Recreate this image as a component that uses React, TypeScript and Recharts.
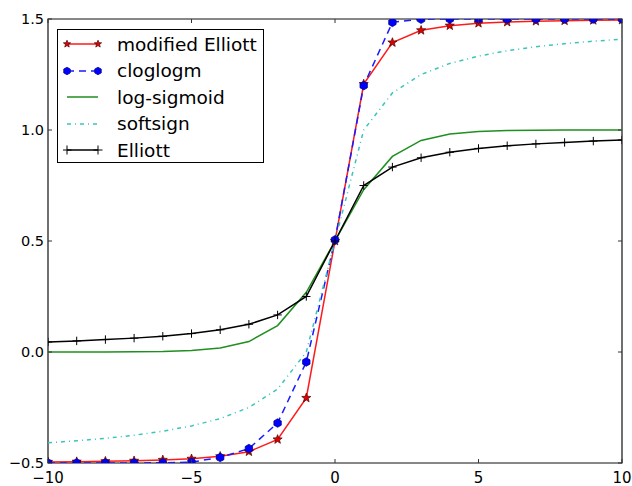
import { LineChart, Line, XAxis, YAxis, ReferenceArea, Legend } from "recharts";

const X_VALUES = [-10, -9, -8, -7, -6, -5, -4, -3, -2, -1, 0, 1, 2, 3, 4, 5, 6, 7, 8, 9, 10];

const MODIFIED_ELLIOTT = [
  -0.495, -0.494, -0.492, -0.49, -0.486, -0.481, -0.47, -0.449, -0.394, -0.207,
  0.5, 1.207, 1.394, 1.449, 1.47, 1.481, 1.486, 1.49, 1.492, 1.494, 1.495,
];
const CLOGLOGM = [
  -0.5, -0.5, -0.5, -0.5, -0.499, -0.496, -0.475, -0.435, -0.32, -0.045,
  0.505, 1.2, 1.485, 1.499, 1.5, 1.5, 1.5, 1.5, 1.5, 1.5, 1.5,
];
const LOG_SIGMOID = [
  0.0, 0.0001, 0.0003, 0.001, 0.0025, 0.007, 0.018, 0.047, 0.119, 0.269,
  0.5, 0.731, 0.881, 0.953, 0.982, 0.993, 0.9975, 0.999, 0.9997, 0.9999, 1.0,
];
const SOFTSIGN = [
  -0.409, -0.4, -0.389, -0.375, -0.357, -0.333, -0.3, -0.25, -0.167, 0.0,
  0.5, 1.0, 1.167, 1.25, 1.3, 1.333, 1.357, 1.375, 1.389, 1.4, 1.409,
];
const ELLIOTT = [
  0.045, 0.05, 0.056, 0.0625, 0.071, 0.083, 0.1, 0.125, 0.167, 0.25,
  0.5, 0.75, 0.833, 0.875, 0.9, 0.917, 0.929, 0.9375, 0.944, 0.95, 0.955,
];

const X_TICKS = [-10, -5, 0, 5, 10];
const Y_TICKS = [-0.5, 0, 0.5, 1.0, 1.5];

const data = X_VALUES.map((x, i) => ({
  x,
  modElliott: MODIFIED_ELLIOTT[i],
  cloglogm: CLOGLOGM[i],
  logSigmoid: LOG_SIGMOID[i],
  softsign: SOFTSIGN[i],
  elliott: ELLIOTT[i],
}));

// plot box in pixels
const PLOT = { left: 48, right: 622, top: 19, bottom: 463 };
const FONT = "'DejaVu Sans', sans-serif";
const fmt = (v: number, digits: number) => v.toFixed(digits).replace("-", "\u2212");

const starPath = (cx: number, cy: number, r: number) => {
  const pts: string[] = [];
  for (let i = 0; i < 10; i++) {
    const rad = i % 2 === 0 ? r : r * 0.42;
    const a = -Math.PI / 2 + (i * Math.PI) / 5;
    pts.push(`${cx + rad * Math.cos(a)},${cy + rad * Math.sin(a)}`);
  }
  return "M" + pts.join("L") + "Z";
};

const hexPath = (cx: number, cy: number, r: number) => {
  const pts: string[] = [];
  for (let i = 0; i < 6; i++) {
    const a = -Math.PI / 2 + (i * Math.PI) / 3;
    pts.push(`${cx + r * Math.cos(a)},${cy + r * Math.sin(a)}`);
  }
  return "M" + pts.join("L") + "Z";
};

const Star = ({ cx, cy, r = 4.8 }: any) => (
  <path d={starPath(cx, cy, r)} fill="#e00000" stroke="#4a0000" strokeWidth={0.7} />
);
const Hex = ({ cx, cy, r = 4.3 }: any) => (
  <path d={hexPath(cx, cy, r)} fill="#0000ff" stroke="#00007a" strokeWidth={0.7} />
);
const Plus = ({ cx, cy, r = 4.2 }: any) => (
  <g stroke="#000" strokeWidth={1}>
    <line x1={cx - r} y1={cy} x2={cx + r} y2={cy} />
    <line x1={cx} y1={cy - r} x2={cx} y2={cy + r} />
  </g>
);

const SERIES = [
  { key: "modElliott", name: "modified Elliott", color: "#ff1a1a", dash: undefined, marker: Star },
  { key: "cloglogm", name: "cloglogm", color: "#1a1aff", dash: "7 5", marker: Hex },
  { key: "logSigmoid", name: "log-sigmoid", color: "#1f8f1f", dash: undefined, marker: null },
  { key: "softsign", name: "softsign", color: "#3cc4bc", dash: "4 4 1 4", marker: null },
  { key: "elliott", name: "Elliott", color: "#000000", dash: undefined, marker: Plus },
];

const YTick = ({ y, payload }: any) => (
  <g>
    <line x1={PLOT.left} y1={y} x2={PLOT.left + 4} y2={y} stroke="#333" />
    <line x1={PLOT.right - 4} y1={y} x2={PLOT.right} y2={y} stroke="#333" />
    <text x={PLOT.left - 4} y={y} dy={5} textAnchor="end" fontSize={14.5} fontFamily={FONT} fill="#000">
      {fmt(payload.value, 1)}
    </text>
  </g>
);

const XTick = ({ x, payload }: any) => (
  <g>
    <line x1={x} y1={PLOT.bottom} x2={x} y2={PLOT.bottom - 4} stroke="#333" />
    <line x1={x} y1={PLOT.top} x2={x} y2={PLOT.top + 4} stroke="#333" />
    <text x={x} y={483} textAnchor="middle" fontSize={15} fontFamily={FONT} fill="#000">
      {fmt(payload.value, 0)}
    </text>
  </g>
);

const LegendBox = () => (
  <div
    style={{
      width: 205,
      height: 131,
      border: "1px solid #000",
      background: "#fff",
      fontFamily: FONT,
      fontSize: 18.5,
      color: "#000",
      paddingTop: 1,
      boxSizing: "content-box",
    }}
  >
    {SERIES.map((s) => {
      const M = s.marker;
      return (
        <div key={s.key} style={{ display: "flex", alignItems: "center", height: 26.5 }}>
          <svg width={50} height={20} style={{ marginLeft: 5, flex: "none" }}>
            <line x1={4} y1={10} x2={35} y2={10} stroke={s.color} strokeWidth={1.5} strokeDasharray={s.dash} />
            {M && <M cx={4} cy={10} r={s.key === "elliott" ? 4.5 : 3.8} />}
            {M && <M cx={35} cy={10} r={s.key === "elliott" ? 4.5 : 3.8} />}
          </svg>
          <span style={{ marginLeft: 4, whiteSpace: "nowrap" }}>{s.name}</span>
        </div>
      );
    })}
  </div>
);

export default function App() {
  return (
    <div style={{ position: "absolute", left: 0, top: 0, background: "#fff" }}>
      <LineChart width={632} height={486} data={data} margin={{ top: 19, right: 10, bottom: 0, left: 0 }}>
        <XAxis
          dataKey="x"
          type="number"
          domain={[-10, 10]}
          ticks={X_TICKS}
          height={23}
          axisLine={false}
          tickLine={false}
          tick={<XTick />}
          allowDataOverflow
        />
        <YAxis
          type="number"
          domain={[-0.5, 1.5]}
          ticks={Y_TICKS}
          width={48}
          axisLine={false}
          tickLine={false}
          tick={<YTick />}
          allowDataOverflow
        />
        <ReferenceArea x1={-10} x2={10} y1={-0.5} y2={1.5} fill="none" stroke="#111" strokeWidth={1.2} />
        {SERIES.map((s) => {
          const M = s.marker;
          return (
            <Line
              key={s.key}
              dataKey={s.key}
              name={s.name}
              stroke={s.color}
              strokeWidth={1.5}
              strokeDasharray={s.dash}
              type="linear"
              isAnimationActive={false}
              dot={M ? (p: any) => <M key={`${s.key}-${p.index}`} cx={p.cx} cy={p.cy} /> : false}
              activeDot={false}
            />
          );
        })}
        <Legend
          layout="vertical"
          align="center"
          verticalAlign="middle"
          content={<LegendBox />}
          wrapperStyle={{ left: 57, top: 29, width: 207, height: 133 }}
        />
      </LineChart>
    </div>
  );
}
